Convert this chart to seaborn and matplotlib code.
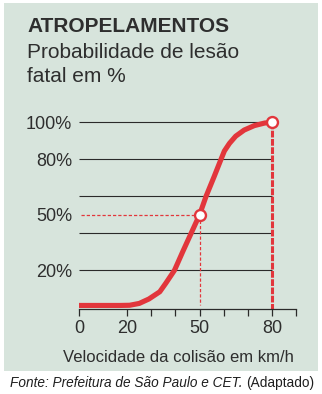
import matplotlib
matplotlib.use("Agg")
import matplotlib.pyplot as plt
import seaborn as sns
import pandas as pd
from matplotlib.patches import Rectangle

# ---- data ----
speed = [0, 17, 21, 25, 29, 33.5, 36, 39.6, 43, 46.5, 50, 52.7, 56, 58.9, 60.3,
         62.4, 65, 68.5, 72.7, 77, 80]
prob = [1, 1, 1.1, 2.1, 4.5, 8.4, 13, 20, 30, 40, 50, 60, 70.5, 80, 84.5,
        88.6, 92.5, 95.8, 98.2, 99.6, 100]
grid_levels = [20, 40, 60, 80, 100]
ytick_vals = [20, 50, 80, 100]
ytick_labels = ["20%", "50%", "80%", "100%"]
xtick_vals = [0, 20, 30, 40, 50, 60, 70, 80, 90]
xtick_labels = ["0", "20", "", "", "50", "", "", "80", ""]
marker_speed = [50, 80]
marker_prob = [50, 100]

title = "ATROPELAMENTOS"
subtitle1 = "Probabilidade de lesão"
subtitle2 = "fatal em %"
xlabel = "Velocidade da colisão em km/h"
source_italic = "Fonte: Prefeitura de São Paulo e CET."
source_plain = "(Adaptado)"

# ---- style ----
RED = "#e2363c"
BG = "#d7e4dc"
TXT = "#2e2e2e"
plt.rcParams["font.family"] = ["Liberation Sans", "DejaVu Sans"]

W, H = 322, 394
fig = plt.figure(figsize=(W / 100, H / 100), dpi=100)
fig.patch.set_facecolor("white")
fig.patches.append(Rectangle((4 / W, 1 - 371 / H), 314 / W, 368 / H,
                             transform=fig.transFigure, facecolor=BG,
                             edgecolor="none", zorder=-5))

ax_bottom_px, ax_top_px = 309.3, 116.0
ax = fig.add_axes([79 / W, 1 - ax_bottom_px / H, 217 / W, (ax_bottom_px - ax_top_px) / H])
ax.set_zorder(2)
ax.patch.set_alpha(0)
ax.set_xlim(0, 90)
ax.set_ylim(-1.08, 103.4)

# gridlines (from 0 to 80 km/h)
ax.hlines(grid_levels, 0, 80, color="#2a2a2a", lw=0.8, zorder=1)

# dashed guides
ax.plot([0.8, 50], [50, 50], color=RED, lw=0.9, ls=(0, (2.6, 1.6)), zorder=2)
ax.plot([50, 50], [50, 1], color=RED, lw=0.9, ls=(0, (2.6, 1.6)), zorder=2)
ax.plot([80, 80], [100, -1.08], color=RED, lw=2.2, ls=(0, (2.2, 0.5)), zorder=2,
        solid_capstyle="butt", dash_capstyle="butt")

df = pd.DataFrame({"speed": speed, "prob": prob})
sns.lineplot(data=df, x="speed", y="prob", color=RED, lw=3.7, ax=ax, zorder=3,
             solid_capstyle="butt", solid_joinstyle="round")
mk = pd.DataFrame({"speed": marker_speed, "prob": marker_prob})
sns.scatterplot(data=mk, x="speed", y="prob", s=62, color="white", edgecolor=RED,
                linewidth=1.7, ax=ax, zorder=5, clip_on=False)

for s in ["left", "right", "top"]:
    ax.spines[s].set_visible(False)
ax.spines["bottom"].set_color("#2a2a2a")
ax.spines["bottom"].set_linewidth(0.9)

ax.set_yticks(ytick_vals)
ax.set_yticklabels(ytick_labels, fontsize=13, color=TXT)
ax.tick_params(axis="y", length=0, pad=5)
ax.set_xticks(xtick_vals)
ax.set_xticklabels(xtick_labels, fontsize=13, color=TXT)
ax.tick_params(axis="x", length=5, width=0.9, color="#2a2a2a", pad=3)
ax.set_xlabel("")
ax.set_ylabel("")

# texts
fig.text(27 / W, 1 - 32 / H, title, fontsize=15, fontweight="bold", color=TXT,
         ha="left", va="baseline")
fig.text(27 / W, 1 - 58 / H, subtitle1, fontsize=15, color=TXT, ha="left", va="baseline")
fig.text(27 / W, 1 - 82 / H, subtitle2, fontsize=15, color=TXT, ha="left", va="baseline")
fig.text(178.5 / W, 1 - 362 / H, xlabel, fontsize=12, color=TXT, ha="center", va="baseline")

t1 = fig.text(10 / W, 1 - 387 / H, source_italic, fontsize=9.8, style="italic",
              color="#1e1e1e", ha="left", va="baseline")
fig.canvas.draw()
ext = t1.get_window_extent(renderer=fig.canvas.get_renderer())
fig.text((ext.x1 + 4) / W, 1 - 387 / H, source_plain, fontsize=9.8, color="#1e1e1e",
         ha="left", va="baseline")

fig.savefig("out.png", dpi=100, facecolor="white")
